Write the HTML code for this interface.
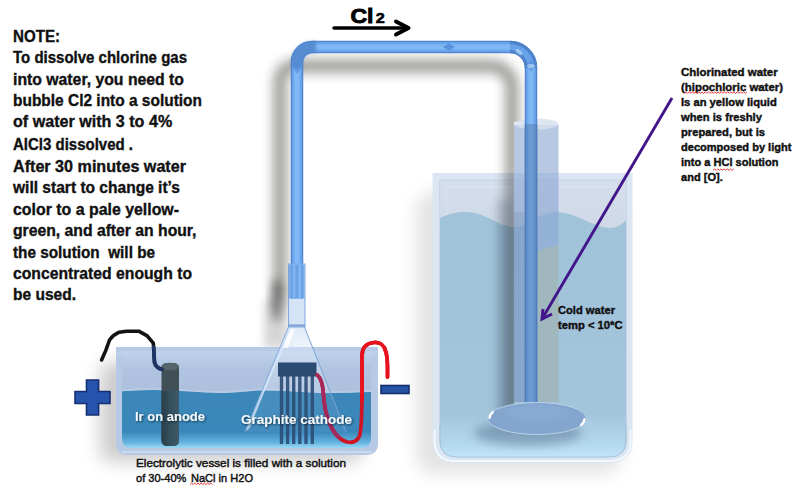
<!DOCTYPE html>
<html><head><meta charset="utf-8">
<style>
html,body{margin:0;padding:0;background:#fff;width:797px;height:493px;overflow:hidden}
svg{display:block}
.t{font-family:"Liberation Sans",sans-serif;font-weight:bold}
</style></head><body>
<svg width="797" height="493" viewBox="0 0 797 493">
<defs>
  <filter id="blur9" x="-50%" y="-50%" width="200%" height="200%"><feGaussianBlur stdDeviation="9"/></filter>
  <filter id="blur6" x="-50%" y="-50%" width="200%" height="200%"><feGaussianBlur stdDeviation="6"/></filter>
  <filter id="blur5" x="-50%" y="-50%" width="200%" height="200%"><feGaussianBlur stdDeviation="5"/></filter>
  <filter id="blur4" x="-50%" y="-50%" width="200%" height="200%"><feGaussianBlur stdDeviation="4"/></filter>
  <filter id="blur8" x="-50%" y="-50%" width="200%" height="200%"><feGaussianBlur stdDeviation="8"/></filter>
  <filter id="blur2" x="-50%" y="-50%" width="200%" height="200%"><feGaussianBlur stdDeviation="1.5"/></filter>
  <filter id="blur1" x="-50%" y="-50%" width="200%" height="200%"><feGaussianBlur stdDeviation="0.7"/></filter>
  <filter id="tsh" x="-20%" y="-50%" width="140%" height="200%">
    <feGaussianBlur in="SourceAlpha" stdDeviation="0.8"/>
    <feOffset dx="0.5" dy="0.8" result="o"/>
    <feFlood flood-color="#0a2030" flood-opacity="0.8"/>
    <feComposite in2="o" operator="in"/>
    <feMerge><feMergeNode/><feMergeNode in="SourceGraphic"/></feMerge>
  </filter>
  <linearGradient id="vesWater" x1="0" y1="0" x2="0" y2="1">
    <stop offset="0" stop-color="#3b86b8"/>
    <stop offset="0.72" stop-color="#3a88bb"/>
    <stop offset="0.9" stop-color="#62b2de"/>
    <stop offset="1" stop-color="#9ad8f4"/>
  </linearGradient>
  <linearGradient id="vesAir" x1="0" y1="0" x2="0" y2="1">
    <stop offset="0" stop-color="#bccfea"/>
    <stop offset="0.15" stop-color="#b0c3e0"/>
    <stop offset="1" stop-color="#a5b7d3"/>
  </linearGradient>
  <linearGradient id="bkWater" x1="0" y1="0" x2="0" y2="1">
    <stop offset="0" stop-color="#a0c3da"/>
    <stop offset="0.82" stop-color="#a2c5dc"/>
    <stop offset="0.95" stop-color="#b4d8ee"/>
    <stop offset="1" stop-color="#c4e4f8"/>
  </linearGradient>
  <linearGradient id="bkAir" x1="0" y1="0" x2="0" y2="1">
    <stop offset="0" stop-color="#d4deec"/>
    <stop offset="0.4" stop-color="#c8d2e2"/>
    <stop offset="1" stop-color="#c2cde0"/>
  </linearGradient>
  <linearGradient id="anodeG" x1="0" y1="0" x2="1" y2="0">
    <stop offset="0" stop-color="#2a3e48"/>
    <stop offset="0.5" stop-color="#34505e"/>
    <stop offset="1" stop-color="#3e5a68"/>
  </linearGradient>
  <linearGradient id="coneG" x1="0" y1="0" x2="1" y2="0">
    <stop offset="0" stop-color="#e8f2fc" stop-opacity="0.55"/>
    <stop offset="0.5" stop-color="#d4e4f6" stop-opacity="0.35"/>
    <stop offset="1" stop-color="#c4d8f0" stop-opacity="0.3"/>
  </linearGradient>
  <linearGradient id="coneF" gradientUnits="userSpaceOnUse" x1="0" y1="327" x2="0" y2="432">
    <stop offset="0" stop-color="#dce8f8" stop-opacity="0.9"/>
    <stop offset="0.18" stop-color="#dce8f8" stop-opacity="0.5"/>
    <stop offset="0.6" stop-color="#dce8f8" stop-opacity="0.25"/>
    <stop offset="0.61" stop-color="#dce8f8" stop-opacity="0.08"/>
    <stop offset="1" stop-color="#dce8f8" stop-opacity="0.05"/>
  </linearGradient>
  <clipPath id="shclip"><path d="M0 0 H797 V493 H0 Z M514 122 H558.5 V410 H514 Z" clip-rule="evenodd"/></clipPath>
</defs>

<!-- ===== shadows ===== -->
<g opacity="0.2" filter="url(#blur9)">
  <rect x="100" y="362" width="262" height="100" rx="10" fill="#000"/>
</g>
<rect x="416" y="192" width="205" height="282" rx="18" fill="#000" opacity="0.11" filter="url(#blur9)"/>

<!-- ===== right beaker ===== -->
<path d="M432.5 173 H632.5 V440 Q632.5 463 609.5 463 H455.5 Q432.5 463 432.5 440 Z" fill="#dbe6f3"/>
<path d="M439.5 180 H626.5 V440 Q626.5 457 609.5 457 H456.5 Q439.5 457 439.5 440 Z" fill="url(#bkAir)" stroke="#c6d2e2" stroke-width="0.8"/>
<path d="M446.5 187 H620" fill="none" stroke="#dae4f0" stroke-width="1.5"/>
<path d="M446.5 187 V215" fill="none" stroke="#d6e0ee" stroke-width="1.5"/>
<path d="M440 218 C450 213 458 212 466 212 C485 212 498 226 512 227 C525 228 540 212 556 212 C575 212 595 228 610 228 C618 228 623 223 626 220 V440 Q626 457 609 457 H457 Q440 457 440 440 Z" fill="url(#bkWater)"/>
<path d="M440 425 V440 Q440 457 457 457 H609 Q626 457 626 440 V425" fill="none" stroke="#8fb4d0" stroke-width="1" opacity="0.6"/>
<path d="M434.5 430 V440 Q434.5 461 455.5 461 H609.5 Q630.5 461 630.5 440 V430" fill="none" stroke="#f4faff" stroke-width="2" opacity="0.9"/>

<!-- tube shadow -->
<g clip-path="url(#shclip)"><g opacity="0.44" filter="url(#blur6)">
  <path d="M280 300 V81 A15 15 0 0 1 295 66 H491 A21 21 0 0 1 512 87 V420" fill="none" stroke="#1c1a12" stroke-width="13"/>
</g></g>
<ellipse cx="277" cy="300" rx="6" ry="22" fill="#000" opacity="0.4" filter="url(#blur5)"/>
<rect x="264" y="300" width="24" height="48" fill="#000" opacity="0.16" filter="url(#blur5)"/>

<rect x="496" y="200" width="17" height="230" fill="#1a3050" opacity="0.16" filter="url(#blur4)"/>
<!-- inner cylinder -->
<rect x="514" y="125" width="44.5" height="277" fill="#8aa6d2" opacity="0.62"/>
<path d="M538 252 C545 246 552 248 558.5 244 V402 H538 Z" fill="#c0c48a" opacity="0.3" filter="url(#blur1)"/>
<rect x="514" y="212" width="11" height="190" fill="#506c90" opacity="0.15"/>
<ellipse cx="536.2" cy="124" rx="22.2" ry="5.5" fill="#d6e0ee" opacity="0.8"/>

<!-- ===== tube ===== -->
<path d="M297 266 V62 A15 15 0 0 1 312 47 H510 A21 21 0 0 1 531 68 V402" fill="none" stroke="#5286d0" stroke-width="12.5"/>
<path d="M297 266 V62 A15 15 0 0 1 312 47 H510 A21 21 0 0 1 531 68 V402" fill="none" stroke="#6ca8ee" stroke-width="9.5"/>
<path d="M297 266 V62 A15 15 0 0 1 312 47 H510 A21 21 0 0 1 531 68 V402" fill="none" stroke="#80b8f6" stroke-width="5" filter="url(#blur1)"/>
<rect x="524.5" y="124" width="13" height="278" fill="#50709e" opacity="0.42"/>
<g fill="none" stroke-linecap="butt">
  <g opacity="0.75" filter="url(#blur2)">
  <path d="M297 68 V62 A15 15 0 0 1 312 47 H316" stroke="#4b7fc6" stroke-width="11"/>
  </g>
  <path d="M510 47 A21 21 0 0 1 531 68" stroke="#4f84cc" stroke-width="12.5"/>
  <path d="M510 47 A21 21 0 0 1 531 68" stroke="#68a2ea" stroke-width="6"/>
</g>
<path d="M443 47 L449 43.5 L455 47 L449 50.5 Z" fill="#4f88d6" opacity="0.8" filter="url(#blur1)"/>
<path d="M297 62 L300.5 68 L297 74 L293.5 68 Z" fill="#4f88d6" opacity="0.6" filter="url(#blur1)"/>
<path d="M531 60 L534.5 66 L531 72 L527.5 66 Z" fill="#4f88d6" opacity="0.6" filter="url(#blur1)"/>
<ellipse cx="531" cy="66" rx="4" ry="2" fill="#b0d2f6" opacity="0.8"/>
<ellipse cx="519" cy="52" rx="4" ry="2" fill="#b8d8f8" opacity="0.7" transform="rotate(40 519 52)"/>

<!-- disk -->
<ellipse cx="528" cy="433" rx="54" ry="13" fill="#2a4060" opacity="0.32" filter="url(#blur5)"/>
<ellipse cx="537" cy="418.5" rx="49.5" ry="16" fill="#84a6ce" stroke="#b8d0ea" stroke-width="1"/>
<ellipse cx="537" cy="413" rx="32" ry="8" fill="#8cadd6" opacity="0.45"/>
<path d="M489.5 418 Q490 414 493 412" fill="none" stroke="#fff" stroke-width="2.2" stroke-linecap="round" filter="url(#blur1)"/>
<path d="M584.5 419 Q584 423 581 425" fill="none" stroke="#fff" stroke-width="2.2" stroke-linecap="round" filter="url(#blur1)"/>

<!-- purple arrow -->
<g stroke="#42168a" stroke-width="2.9" fill="none" stroke-linecap="butt" stroke-linejoin="miter">
  <line x1="672" y1="98" x2="542" y2="319"/>
  <polyline points="543,309 542,319 552,314"/>
</g>

<!-- ===== electrolytic vessel ===== -->
<path d="M116 347 H378 V443 Q378 455 366 455 H128 Q116 455 116 443 Z" fill="#b6c9e5"/>
<rect x="117" y="351" width="260" height="4" fill="#bed0ea"/>
<path d="M122 355 H371 V438 Q371 448 361 448 H132 Q122 448 122 438 Z" fill="url(#vesAir)"/>
<line x1="122" y1="452" x2="372" y2="452" stroke="#dceaf8" stroke-width="1.2"/>
<path d="M122 391.3 C135 390.5 145 390 155 390 C180 390 200 393 220 393 C235 393 245 391 260 390.5 C285 390 305 393 330 393 C350 393 360 392 371 392 V438 Q371 448 361 448 H132 Q122 448 122 438 Z" fill="url(#vesWater)"/>
<path d="M122 390.3 C135 389.5 145 389 155 389 C180 389 200 392 220 392 C235 392 245 390 260 389.5 C285 389 305 392 330 392 C350 392 360 391 371 391" fill="none" stroke="#bcd0ea" stroke-width="2" opacity="0.6"/>

<!-- anode -->
<rect x="161.5" y="363" width="17.5" height="83" rx="5" fill="#414f57"/>
<path d="M161.5 391 H179 V440 Q179 446 173 446 H167.5 Q161.5 446 161.5 440 Z" fill="url(#anodeG)"/>
<ellipse cx="170.2" cy="366.5" rx="8.7" ry="3.8" fill="#56656c"/>

<!-- black wire -->
<path d="M101.6 360 L105.8 350.4 L109.5 340 Q113 335 119.2 332.2 L126.5 331.2 H138.7 L147.2 335.8 L153.3 343.1 L153.9 351.6 L154.5 362.6 Q156 368 161.8 369.3" fill="none" stroke="#121212" stroke-width="3.6" stroke-linejoin="round" stroke-linecap="round"/>
<path d="M153.7 347 L153.9 351.6 L154.5 362.6 Q156 368 161.8 369.3" fill="none" stroke="#1c3566" stroke-width="3.6" stroke-linejoin="round" stroke-linecap="round"/>

<!-- funnel cone fill -->
<path d="M288.5 327 L245 432 H346 L304.5 327 Z" fill="url(#coneF)"/>
<!-- cathode -->
<g fill="#2c4d76" opacity="0.9">
  <rect x="279.8" y="376" width="3.4" height="68"/>
  <rect x="285.9" y="376" width="3.4" height="68"/>
  <rect x="292" y="376" width="3.4" height="68"/>
  <rect x="298.1" y="376" width="3.4" height="68"/>
  <rect x="304.3" y="376" width="3.4" height="68"/>
  <rect x="310.6" y="376" width="3.4" height="68"/>
</g>
<rect x="278" y="362.5" width="38.5" height="14" fill="#2b4b73"/>

<!-- red wire -->
<path d="M317.2 374.9 C321 378 323 385 323.5 395 C324 405 326 414 329 422 C333 432 339 440 347.5 442 C353 443 357 442 359.5 436 C362 428 362 405 362 390 V356 C362 346 368 343 374 342.5 C381 342 384 345 386 352 C388 360 387.5 368 387.5 377" fill="none" stroke="#cf1424" stroke-width="3.7" stroke-linejoin="round" stroke-linecap="round"/>
<path d="M362 400 V356 C362 346 368 343 374 342.5 C381 342 384 345 386 352 C388 360 387.5 368 387.5 377" fill="none" stroke="#e8121c" stroke-width="3.7" stroke-linejoin="round" stroke-linecap="round"/>
<path d="M317.2 374.9 C321 378 323 385 323.5 395 C324 405 326 414 329 422 C332 430 335 434 339 437" fill="none" stroke="#a4285c" stroke-width="3.7" stroke-linejoin="round" stroke-linecap="round"/>

<!-- funnel outline -->
<path d="M288.5 327 L245 432 M346 432 L304.5 327" fill="none" stroke="#7aa2d6" stroke-width="1"/>
<path d="M289.5 328 L247 430" fill="none" stroke="#c4dcf6" stroke-width="2" opacity="0.7"/>
<path d="M289.5 333 Q270 375 249 428" fill="none" stroke="#e8f2ff" stroke-width="1.6" opacity="0.55"/>
<path d="M290 329 L295 329 L288 348 L283 348 Z" fill="#ffffff" opacity="0.8" filter="url(#blur1)"/>
<rect x="288.5" y="264" width="16.5" height="63" fill="#d4e3f6" stroke="#7ea8de" stroke-width="1"/>
<rect x="289" y="264.5" width="15.5" height="34" fill="#7aaae6"/>
<rect x="291" y="264.5" width="12" height="34" fill="#6ca2e8"/>
<rect x="293" y="264.5" width="2.5" height="34" fill="#80b6f4"/>
<rect x="298.5" y="264.5" width="2.5" height="34" fill="#80b6f4"/>
<line x1="288.5" y1="325.5" x2="305" y2="325.5" stroke="#7aa0d4" stroke-width="2"/>

<!-- plus / minus -->
<path d="M86.5 380 H98.6 V391.5 H110 V403.5 H98.6 V415 H86.5 V403.5 H75 V391.5 H86.5 Z" fill="#2654ac" stroke="#142f72" stroke-width="1.6"/>
<rect x="381" y="385.5" width="28" height="8" fill="#2652a4" stroke="#142f6c" stroke-width="1.6"/>

<!-- labels -->
<g class="t" fill="#f4f8fc" font-size="12.5" filter="url(#tsh)">
  <text x="135" y="420.8" textLength="70" lengthAdjust="spacingAndGlyphs">Ir on anode</text>
  <text x="241" y="423.5" textLength="111" lengthAdjust="spacingAndGlyphs">Graphite cathode</text>
</g>

<!-- Cl2 -->
<g fill="#000" stroke="#000">
<text class="t" x="350.5" y="23" font-size="20.5" stroke-width="0.9" textLength="23" lengthAdjust="spacingAndGlyphs">Cl</text>
<text class="t" x="375.8" y="23" font-size="14.5" stroke-width="0.6" textLength="9" lengthAdjust="spacingAndGlyphs">2</text>
</g>
<g stroke="#000" stroke-width="3.5" fill="none" stroke-linecap="round" stroke-linejoin="round">
  <line x1="334" y1="28" x2="406" y2="28"/>
  <polyline points="396,21.5 408.5,28 396,34.5" stroke-width="4"/>
</g>

<!-- left text -->
<g class="t" font-size="15.6" fill="#111" stroke="#111" stroke-width="0.35">
  <text x="13" y="41.8" textLength="47" lengthAdjust="spacingAndGlyphs">NOTE:</text>
  <text x="13" y="63.4" textLength="174" lengthAdjust="spacingAndGlyphs">To dissolve chlorine gas</text>
  <text x="13" y="84.8" textLength="171" lengthAdjust="spacingAndGlyphs">into water, you need to</text>
  <text x="13" y="106.1" textLength="189" lengthAdjust="spacingAndGlyphs">bubble Cl2 into a solution</text>
  <text x="13" y="127.3" textLength="159.2" lengthAdjust="spacingAndGlyphs">of water with 3 to 4%</text>
  <text x="13" y="149.9" textLength="120" lengthAdjust="spacingAndGlyphs">AlCl3 dissolved .</text>
  <text x="13" y="171.6" textLength="173" lengthAdjust="spacingAndGlyphs">After 30 minutes water</text>
  <text x="13" y="193.0" textLength="167" lengthAdjust="spacingAndGlyphs">will start to change it’s</text>
  <text x="13" y="214.5" textLength="166" lengthAdjust="spacingAndGlyphs">color to a pale yellow-</text>
  <text x="13" y="235.9" textLength="183.5" lengthAdjust="spacingAndGlyphs">green, and after an hour,</text>
  <text x="13" y="257.5" style="white-space:pre" textLength="142" lengthAdjust="spacingAndGlyphs">the solution  will be</text>
  <text x="13" y="278.7" textLength="179" lengthAdjust="spacingAndGlyphs">concentrated enough to</text>
  <text x="13" y="300.1" textLength="63" lengthAdjust="spacingAndGlyphs">be used.</text>
</g>

<!-- right text -->
<g class="t" font-size="11" fill="#111" stroke="#111" stroke-width="0.42">
  <text x="681" y="75.7" textLength="96.7" lengthAdjust="spacingAndGlyphs">Chlorinated water</text>
  <text x="681" y="90.9" textLength="102.0" lengthAdjust="spacingAndGlyphs">(hipochloric water)</text>
  <text x="681" y="106" textLength="95.8" lengthAdjust="spacingAndGlyphs">Is an yellow liquid</text>
  <text x="681" y="121.1" textLength="80.9" lengthAdjust="spacingAndGlyphs">when is freshly</text>
  <text x="681" y="136.2" textLength="84.0" lengthAdjust="spacingAndGlyphs">prepared, but is</text>
  <text x="681" y="151.3" textLength="110.4" lengthAdjust="spacingAndGlyphs">decomposed by light</text>
  <text x="681" y="166.4" textLength="97.4" lengthAdjust="spacingAndGlyphs">into a HCl solution</text>
  <text x="681" y="181.3" textLength="41.8" lengthAdjust="spacingAndGlyphs">and [O].</text>
</g>
<!-- spell squiggles -->
<g fill="none" stroke="#e02020" stroke-width="1" opacity="0.9">
  <path d="M684.5 93.3 l1.6 -1.4 l1.6 1.4 l1.6 -1.4 l1.6 1.4 l1.6 -1.4 l1.6 1.4 l1.6 -1.4 l1.6 1.4 l1.6 -1.4 l1.6 1.4 l1.6 -1.4 l1.6 1.4 l1.6 -1.4 l1.6 1.4 l1.6 -1.4 l1.6 1.4 l1.6 -1.4 l1.6 1.4 l1.6 -1.4 l1.6 1.4 l1.6 -1.4 l1.6 1.4 l1.6 -1.4 l1.6 1.4 l1.6 -1.4 l1.6 1.4 l1.6 -1.4 l1.6 1.4 l1.6 -1.4 l1.6 1.4 l1.6 -1.4 l1.6 1.4 l1.6 -1.4 l1.6 1.4 l1.6 -1.4 l1.6 1.4 l1.6 -1.4 l1.6 1.4 l1.6 -1.4"/>
  <path d="M713.0 170.3 l1.6 -1.4 l1.6 1.4 l1.6 -1.4 l1.6 1.4 l1.6 -1.4 l1.6 1.4 l1.6 -1.4 l1.6 1.4 l1.6 -1.4 l1.6 1.4 l1.6 -1.4 l1.6 1.4 l1.6 -1.4"/>
  <path d="M190.0 484.5 l1.6 -1.4 l1.6 1.4 l1.6 -1.4 l1.6 1.4 l1.6 -1.4 l1.6 1.4 l1.6 -1.4 l1.6 1.4 l1.6 -1.4 l1.6 1.4 l1.6 -1.4 l1.6 1.4 l1.6 -1.4 l1.6 1.4"/>
</g>

<!-- cold water -->
<g class="t" font-size="10.8" fill="#111" stroke="#111" stroke-width="0.4">
  <text x="558" y="313.8" textLength="57" lengthAdjust="spacingAndGlyphs">Cold water</text>
  <text x="558" y="328.6" textLength="64.5" lengthAdjust="spacingAndGlyphs">temp &lt; 10*C</text>
</g>

<!-- caption -->
<g font-family="Liberation Sans, sans-serif" font-size="11.3" fill="#111" stroke="#111" stroke-width="0.45">
  <text x="136" y="467.3" textLength="210" lengthAdjust="spacingAndGlyphs">Electrolytic vessel is filled with a solution</text>
  <text x="136" y="481.5" textLength="117" lengthAdjust="spacingAndGlyphs">of 30-40% <tspan dx="1.5">NaCl</tspan> in H2O</text>
</g>
</svg>
</body></html>
